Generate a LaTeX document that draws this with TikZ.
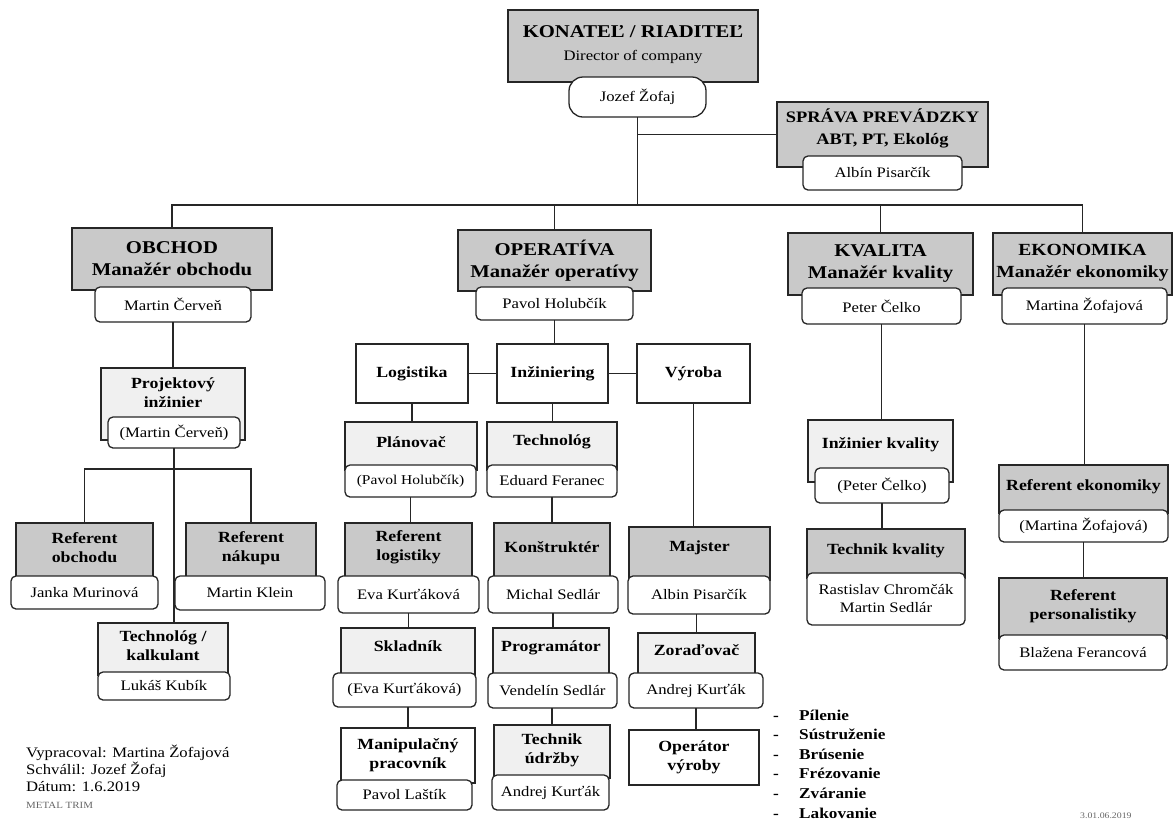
\documentclass[tikz,border=0pt]{standalone}
\usepackage{fontspec}
\setmainfont{Liberation Serif}[FakeStretch=1.15]
\newcommand\ftop{\fontsize{18}{22}\selectfont\bfseries}
\newcommand\fsub{\fontsize{15.5}{19}\selectfont\bfseries}
\newcommand\fname{\fontsize{14.5}{18}\selectfont}
% #1 name, #2 box style, #3 text style, #4 x1, #5 y1, #6 x2, #7 y2, #8 text y, #9 text
\newcommand\tbox[9]{%
  \node[#2, anchor=north west, minimum width={(#6-#4)*1pt}, minimum height={(#7-#5)*1pt}] (#1) at (#4,#5) {};
  \node[#3] (#1t) at ({(#4+#6)/2},#8) {#9};}
% #1 name, #2 style, #3 x1, #4 y1, #5 x2, #6 y2, #7 text
\newcommand\nbox[7]{%
  \node[#2, anchor=north west, minimum width={(#5-#3)*1pt}, minimum height={(#6-#4)*1pt}] (#1) at (#3,#4) {#7};}
\tikzset{
  ln/.style={line width=1.2pt, draw=black!85},
  topbox/.style={draw=black!85, line width=2.2pt, fill=gray!42, inner sep=0pt, outer sep=0pt},
  darkbox/.style={draw=black!85, line width=1.3pt, fill=gray!42, inner sep=0pt, outer sep=0pt},
  lightbox/.style={draw=black!85, line width=1.3pt, fill=gray!12, inner sep=0pt, outer sep=0pt},
  whitebox/.style={draw=black!85, line width=1.3pt, fill=white, inner sep=0pt, outer sep=0pt, font=\fsub, align=center},
  namebox/.style={draw=black!85, line width=1.3pt, fill=white, rounded corners=5pt, inner sep=0pt, outer sep=0pt, font=\fname, align=center},
  pillbox/.style={namebox, rounded corners=14pt},
  ttxt/.style={inner sep=0pt, align=center},
  ttop/.style={ttxt, font=\ftop},
  ttops/.style={ttxt, font=\fontsize{17}{22}\selectfont\bfseries},
  tspr/.style={ttxt, font=\fontsize{16}{22}\selectfont\bfseries},
  tsub/.style={ttxt, font=\fsub},
  note/.style={inner sep=0pt, anchor=base west, font=\fontsize{14.5}{17}\selectfont},
  bul/.style={inner sep=0pt, anchor=base west, font=\fontsize{15}{19}\selectfont\bfseries},
}
\begin{document}
\begin{tikzpicture}[x=1pt, y=-1pt]
\fill[white] (0,0) rectangle (1176,823);
\useasboundingbox (0,0) rectangle (1176,823);

% top
\node[topbox, anchor=north west, minimum width=250pt, minimum height=72pt] (konatel) at (508,10) {};
\node[ttop] (konatelt) at (633,32) {KONATEĽ / RIADITEĽ};
\node[ttxt, font=\fontsize{14.5}{17}\selectfont] (konateld) at (633,57) {Director of company};
\nbox{jozef}{pillbox}{569}{77}{706}{117}{Jozef Žofaj}

\tbox{sprava}{topbox}{tspr}{777}{102}{988}{167}{128}{SPRÁVA PREVÁDZKY\\ABT, PT, Ekológ}
\nbox{albin1}{namebox}{803}{156}{962}{190}{Albín Pisarčík}

% OBCHOD
\tbox{obchod}{topbox}{ttop}{72}{228}{272}{290}{259}{OBCHOD\\Manažér obchodu}
\nbox{cerven}{namebox}{95}{287}{251}{322}{Martin Červeň}
\tbox{proj}{lightbox}{tsub}{101}{368}{245}{440}{393}{Projektový\\inžinier}
\nbox{projn}{namebox}{108}{417}{240}{448}{(Martin Červeň)}
\tbox{refobch}{darkbox}{tsub}{16}{523}{153}{580}{548}{Referent\\obchodu}
\nbox{janka}{namebox}{11}{576}{158}{609}{Janka Murinová}
\tbox{refnak}{darkbox}{tsub}{186}{523}{316}{580}{548}{Referent\\nákupu}
\nbox{klein}{namebox}{175}{576}{325}{610}{Martin Klein}
\tbox{techk}{lightbox}{tsub}{98}{623}{228}{675}{646}{Technológ /\\kalkulant}
\nbox{kubik}{namebox}{98}{672}{230}{700}{Lukáš Kubík}

% OPERATIVA
\tbox{operat}{topbox}{ttop}{458}{230}{651}{291}{261}{OPERATÍVA\\Manažér operatívy}
\nbox{holub}{namebox}{476}{287}{633}{320}{Pavol Holubčík}
\nbox{logist}{whitebox}{356}{344}{468}{403}{Logistika}
\nbox{inz}{whitebox}{497}{344}{608}{403}{Inžiniering}
\nbox{vyr}{whitebox}{637}{344}{750}{403}{Výroba}
\tbox{plan}{lightbox}{tsub}{345}{422}{477}{470}{442}{Plánovač}
\nbox{plann}{namebox, font=\fontsize{13.5}{16}\selectfont}{345}{465}{476}{497}{(Pavol Holubčík)}
\tbox{tech}{lightbox}{tsub}{487}{422}{617}{470}{442}{Technológ}
\nbox{edu}{namebox}{487}{465}{617}{497}{Eduard Feranec}
\tbox{reflog}{darkbox}{tsub}{345}{523}{472}{580}{547}{Referent\\logistiky}
\nbox{eva}{namebox}{338}{576}{479}{613}{Eva Kurťáková}
\tbox{konst}{darkbox}{tsub}{494}{523}{610}{580}{547}{Konštruktér}
\nbox{sedlar}{namebox}{488}{576}{618}{613}{Michal Sedlár}
\tbox{majster}{darkbox}{tsub}{629}{527}{770}{580}{548}{Majster}
\nbox{albin2}{namebox}{628}{576}{770}{614}{Albin Pisarčík}
\tbox{sklad}{lightbox}{tsub}{341}{628}{475}{676}{646}{Skladník}
\nbox{evan}{namebox}{333}{673}{476}{707}{(Eva Kurťáková)}
\tbox{prog}{lightbox}{tsub}{493}{628}{609}{676}{648}{Programátor}
\nbox{vend}{namebox}{488}{673}{617}{708}{Vendelín Sedlár}
\tbox{zor}{lightbox}{tsub}{638}{633}{755}{676}{650}{Zoraďovač}
\nbox{andrej1}{namebox}{629}{673}{763}{708}{Andrej Kurťák}
\tbox{manip}{whitebox}{tsub}{341}{728}{475}{783}{755}{Manipulačný\\pracovník}
\nbox{lastik}{namebox}{337}{780}{472}{810}{Pavol Laštík}
\tbox{udrz}{lightbox}{tsub}{494}{725}{610}{778}{750}{Technik\\údržby}
\nbox{andrej2}{namebox}{492}{775}{609}{810}{Andrej Kurťák}
\nbox{oper}{whitebox}{629}{730}{759}{785}{Operátor\\výroby}

% KVALITA
\tbox{kval}{topbox}{ttop}{788}{233}{973}{295}{263}{KVALITA\\Manažér kvality}
\nbox{celko}{namebox}{802}{288}{961}{324}{Peter Čelko}
\tbox{inzk}{lightbox}{tsub}{808}{420}{953}{482}{445}{Inžinier kvality}
\nbox{celkon}{namebox}{815}{468}{949}{503}{(Peter Čelko)}
\tbox{techkv}{darkbox}{tsub}{807}{529}{965}{578}{551}{Technik kvality}
\nbox{rast}{namebox}{807}{573}{965}{625}{Rastislav Chromčák\\Martin Sedlár}

% EKONOMIKA
\tbox{ekon}{topbox}{ttops}{993}{233}{1172}{295}{263}{EKONOMIKA\\Manažér ekonomiky}
\nbox{zofaj}{namebox}{1002}{288}{1167}{324}{Martina Žofajová}
\tbox{refek}{darkbox}{tsub}{999}{465}{1168}{513}{487}{Referent ekonomiky}
\nbox{zofajn}{namebox}{999}{510}{1168}{542}{(Martina Žofajová)}
\tbox{refpers}{darkbox}{tsub}{999}{578}{1167}{638}{606}{Referent\\personalistiky}
\nbox{blaz}{namebox}{999}{635}{1167}{670}{Blažena Ferancová}

% connectors
\coordinate (bus) at (638,205);
\draw[ln] (jozef.south) -- (jozef.south |- bus);
\draw[ln] (jozef.south |- sprava.west) -- (sprava.west);
\draw[ln] (obchod.north) -- (obchod.north |- bus) -- (ekon.north |- bus) -- (ekon.north);
\draw[ln] (operat.north |- bus) -- (operat.north);
\draw[ln] (kval.north |- bus) -- (kval.north);

\draw[ln] (cerven.south) -- (cerven.south |- proj.north);
\draw[ln] (projn.south) -- (projn.south |- techk.north);
\draw[ln] (refobch.north) -- ++(0,-54) -| (refnak.north);

\draw[ln] (holub.south) -- (holub.south |- inz.north);
\draw[ln] (logist.east) -- (inz.west);
\draw[ln] (inz.east) -- (vyr.west);
\draw[ln] (logist.south) -- (logist.south |- plan.north);
\draw[ln] (inz.south) -- (inz.south |- tech.north);
\draw[ln] (vyr.south) -- (vyr.south |- majster.north);
\draw[ln] (plann.south) -- (plann.south |- reflog.north);
\draw[ln] (eva.south) -- (eva.south |- sklad.north);
\draw[ln] (manip.north |- evan.south) -- (manip.north);
\draw[ln] (edu.south) -- (edu.south |- konst.north);
\draw[ln] (sedlar.south) -- (sedlar.south |- prog.north);
\draw[ln] (udrz.north |- vend.south) -- (udrz.north);
\draw[ln] (zor.north |- albin2.south) -- (zor.north);
\draw[ln] (andrej1.south) -- (andrej1.south |- oper.north);

\draw[ln] (celko.south) -- (celko.south |- inzk.north);
\draw[ln] (celkon.south) -- (celkon.south |- techkv.north);
\draw[ln] (zofaj.south) -- (zofaj.south |- refek.north);
\draw[ln] (zofajn.south) -- (zofajn.south |- refpers.north);

% notes
\node[note] (n1) at (26,757) {Vypracoval: Martina Žofajová};
\node[note] (n2) at (26,774) {Schválil: Jozef Žofaj};
\node[note] (n3) at (26,791) {Dátum: 1.6.2019};
\node[note, font=\fontsize{9.5}{11}\selectfont, text=black!60] (n4) at (26,808) {METAL TRIM};

\foreach \t [count=\i] in {Pílenie,Sústruženie,Brúsenie,Frézovanie,Zváranie,Lakovanie}{
  \node[bul] (d\i) at (773,{700.4+19.6*\i}) {-};
  \node[bul] (b\i) at (799,{700.4+19.6*\i}) {\t};
}
\node[note, font=\fontsize{8.5}{10}\selectfont, text=black!60] (stamp) at (1080,818) {3.01.06.2019};
\end{tikzpicture}
\end{document}
